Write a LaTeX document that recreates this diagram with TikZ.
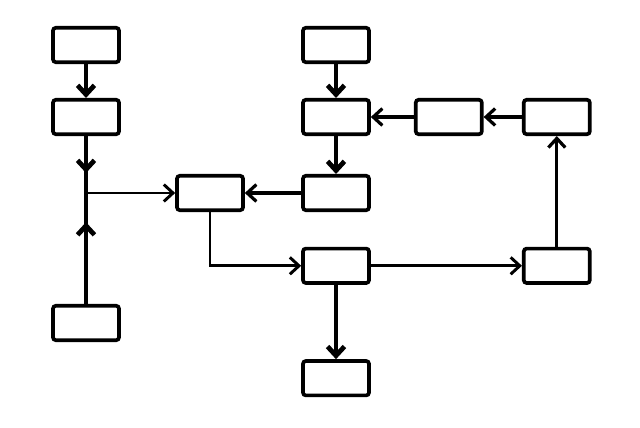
\documentclass[tikz,border=0pt]{standalone}
\usetikzlibrary{arrows.meta}
\usetikzlibrary{positioning}

\begin{document}
\begin{tikzpicture}[->,>={Straight Barb[length=6.5pt,width=12pt]},
    box/.style={rectangle,draw,line width=2.6pt,rounded corners=2pt,fill=white,minimum width=1.65cm,minimum height=0.86cm},
    bold line/.style={line width=3.4pt}, mid line/.style={line width=2.3pt}, thin line/.style={line width=2.1pt}]
   \useasboundingbox (0,0) rectangle (16,10.675);
   \begin{scope}
     % left column
     \node[box] (a1) at (2.15,9.55) {};
     \node[box] (a2) at (2.15,7.75) {};
     \node[box] (a3) at (2.15,2.6) {};
     \coordinate (j) at (2.15,5.85);
     \coordinate (ja) at (2.15,6.35);
     \coordinate (jb) at (2.15,5.12);
     \node[box] (b) at (5.25,5.85) {};
     % middle column
     \node[box] (c1) at (8.4,9.55) {};
     \node[box] (c2) at (8.4,7.75) {};
     \node[box] (c3) at (8.4,5.85) {};
     \node[box] (f) at (8.4,4.03) {};
     \node[box] (h) at (8.4,1.22) {};
     % right side
     \node[box] (d) at (11.22,7.75) {};
     \node[box] (e) at (13.92,7.75) {};
     \node[box] (g) at (13.92,4.03) {};

      \path[bold line] (a1) edge (a2);
      \path[bold line] (a2) edge (ja);
      \path[bold line,-] (a2) edge (j);
      \path[bold line] (a3) edge (jb);
      \path[bold line,-] (a3) edge (j);
      \path[thin line] (j) edge (b);
      \path[mid line] (c3) edge (b);
      \path[bold line] (c1) edge (c2);
      \path[bold line] (c2) edge (c3);
      \path[mid line] (d) edge (c2);
      \path[mid line] (e) edge (d);
      \path[mid line] (g) edge (e);
      \draw[thin line] (b.south) |- (f.west);
      \path[thin line] (f) edge (g);
      \path[bold line] (f) edge (h);
    \end{scope}
  \end{tikzpicture}
\end{document}
